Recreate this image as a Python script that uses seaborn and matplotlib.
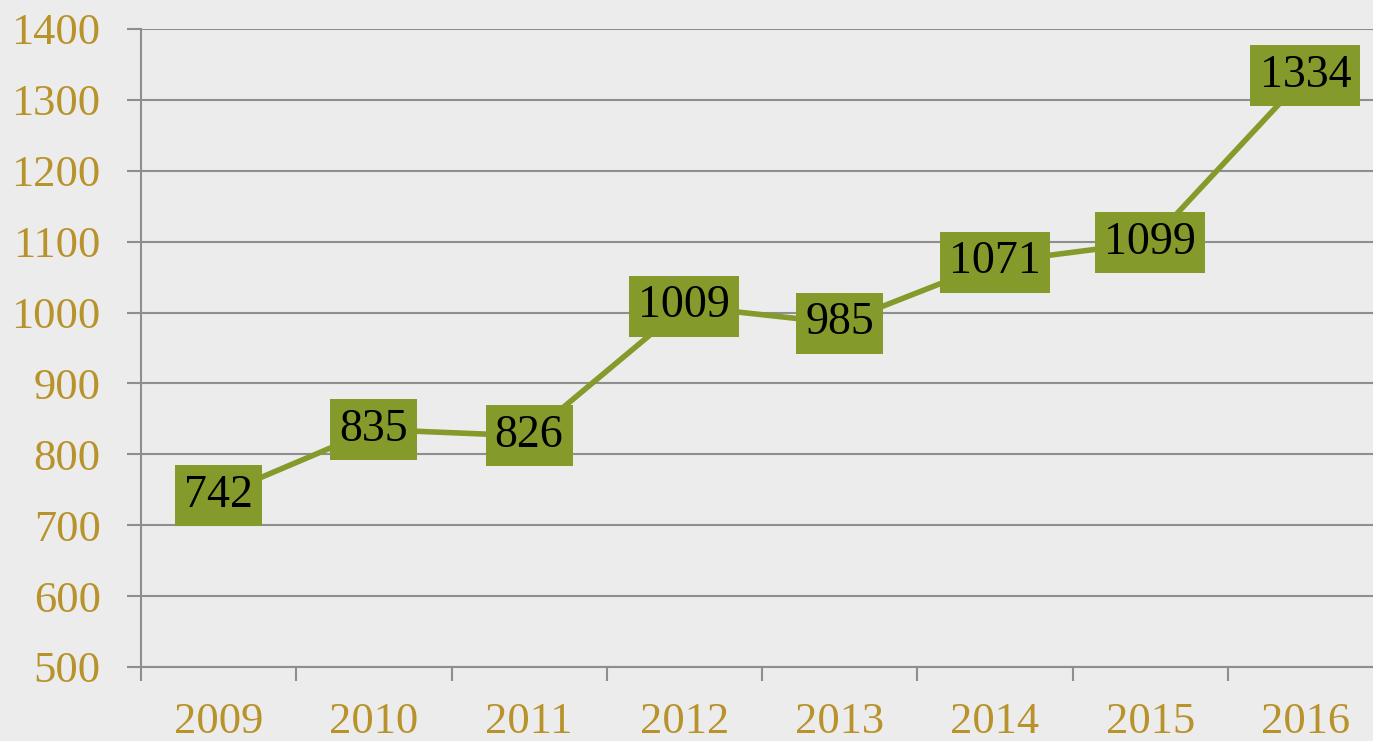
import numpy as np
import pandas as pd
import seaborn as sns
import matplotlib.pyplot as plt

years = ["2009", "2010", "2011", "2012", "2013", "2014", "2015", "2016"]
values = [742, 835, 826, 1009, 985, 1071, 1099, 1334]
y_ticks = [500, 600, 700, 800, 900, 1000, 1100, 1200, 1300, 1400]

olive = "#849a2a"
gold = "#b8922a"
grid_gray = "#8e8e8e"
bg = "#ececec"

sns.set_style("white")
plt.rcParams["font.family"] = ["Liberation Serif", "DejaVu Serif"]

df = pd.DataFrame({"pos": np.arange(len(years)), "value": values})

fig = plt.figure(figsize=(13.73, 7.41), dpi=100, facecolor=bg)
ax = fig.add_axes([141 / 1373, 74 / 741, 1242 / 1373, 638 / 741])
ax.set_facecolor(bg)

sns.lineplot(data=df, x="pos", y="value", color=olive, linewidth=4, ax=ax, zorder=3)

# value labels in olive boxes
for i, v in enumerate(values):
    ax.text(i, v, str(v), ha="center", va="center", fontsize=33, color="black", zorder=4,
            bbox=dict(boxstyle="square,pad=0.2", facecolor=olive, edgecolor="none"))

ax.set_xlim(-0.5, len(years) - 0.5)
ax.set_ylim(500, 1400)
ax.set_yticks(y_ticks)
ax.set_yticklabels([str(t) for t in y_ticks])
ax.set_xticks(np.arange(-0.5, len(years), 1.0))
ax.set_xticklabels([])
ax.set_xticks(np.arange(len(years)), minor=True)
ax.set_xticklabels(years, minor=True)

ax.yaxis.grid(True, color=grid_gray, linewidth=1.5, zorder=1)
ax.set_axisbelow(True)

ax.tick_params(axis="y", which="major", left=True, length=10, width=1.5, color=grid_gray,
               labelsize=32, labelcolor=gold, pad=19)
ax.tick_params(axis="x", which="major", bottom=True, length=10, width=1.5, color=grid_gray)
ax.tick_params(axis="x", which="minor", bottom=True, length=0, labelsize=32, labelcolor=gold, pad=25)

for s in ["top", "right"]:
    ax.spines[s].set_visible(False)
for s in ["left", "bottom"]:
    ax.spines[s].set_color(grid_gray)
    ax.spines[s].set_linewidth(1.5)

ax.set_xlabel("")
ax.set_ylabel("")

fig.savefig("out.png", dpi=100, facecolor=bg)
